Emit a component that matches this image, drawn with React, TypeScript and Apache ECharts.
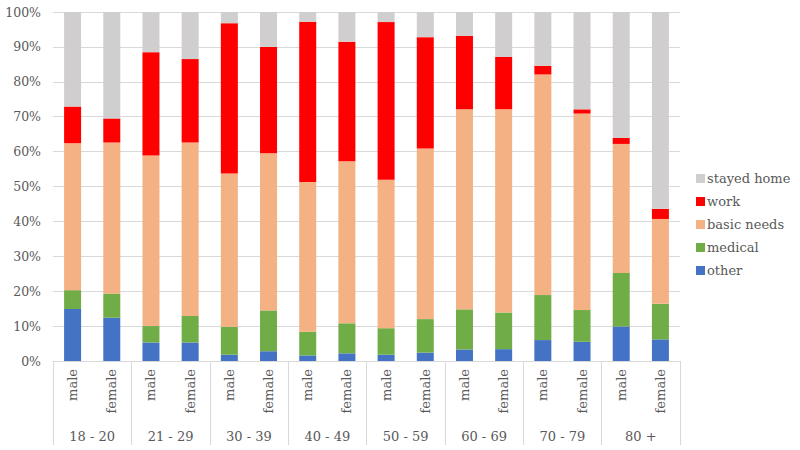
import React, { useEffect, useRef } from "react";
import * as echarts from "echarts";

const ageGroups = ["18 - 20", "21 - 29", "30 - 39", "40 - 49", "50 - 59", "60 - 69", "70 - 79", "80 +"];
const sexes = ["male", "female"];
const barCategories = ageGroups.flatMap(() => sexes);
const yTicks = [0, 10, 20, 30, 40, 50, 60, 70, 80, 90, 100];

const other = [14.9, 12.4, 5.3, 5.3, 1.8, 2.8, 1.6, 2.2, 1.8, 2.4, 3.3, 3.4, 6.0, 5.5, 9.9, 6.2];
const medical = [5.4, 6.9, 4.7, 7.6, 8.0, 11.7, 6.8, 8.6, 7.6, 9.6, 11.5, 10.5, 12.9, 9.1, 15.3, 10.2];
const basicNeeds = [42.1, 43.3, 48.9, 49.7, 43.9, 45.0, 42.9, 46.4, 42.5, 48.9, 57.3, 58.2, 63.2, 56.3, 37.0, 24.3];
const work = [10.5, 6.9, 29.6, 23.9, 43.1, 30.5, 45.9, 34.3, 45.2, 31.9, 21.1, 15.0, 2.5, 1.2, 1.7, 2.9];
const stayedHome = [27.1, 30.5, 11.5, 13.5, 3.2, 10.0, 2.8, 8.5, 2.9, 7.2, 6.8, 12.9, 15.4, 27.9, 36.1, 56.4];

const seriesDefs = [
  { name: "other", data: other, color: "#4472C4" },
  { name: "medical", data: medical, color: "#70AD47" },
  { name: "basic needs", data: basicNeeds, color: "#F4B183" },
  { name: "work", data: work, color: "#FF0000" },
  { name: "stayed home", data: stayedHome, color: "#D0CECE" },
];

const FONT = "DejaVu Serif";
const TEXT = "#595959";
const LINE = "#D9D9D9";

export default function App() {
  const ref = useRef<HTMLDivElement>(null);
  useEffect(() => {
    if (!ref.current) return;
    const chart = echarts.init(ref.current, null, { renderer: "svg" });
    chart.setOption({
      animation: false,
      backgroundColor: "#ffffff",
      textStyle: { fontFamily: FONT },
      grid: { left: 53, right: 120, top: 12, bottom: 89, containLabel: false },
      legend: {
        orient: "vertical",
        left: 691,
        top: 167,
        itemWidth: 9,
        itemHeight: 9,
        itemGap: 10,
        icon: "rect",
        data: ["stayed home", "work", "basic needs", "medical", "other"],
        textStyle: { fontFamily: FONT, fontSize: 13, color: TEXT, padding: [0, 0, 0, -3] },
      },
      xAxis: [
        {
          type: "category",
          data: barCategories,
          position: "bottom",
          axisLine: { show: true, lineStyle: { color: LINE } },
          axisTick: { show: false },
          axisLabel: {
            rotate: 90,
            margin: 8,
            fontFamily: FONT,
            fontSize: 13,
            color: TEXT,
            interval: 0,
          },
        },
        {
          type: "category",
          data: ageGroups,
          position: "bottom",
          axisLine: { show: false },
          axisTick: { show: true, length: 84, interval: 0, lineStyle: { color: LINE } },
          axisLabel: {
            margin: 69,
            fontFamily: FONT,
            fontSize: 13,
            color: TEXT,
            interval: 0,
          },
        },
      ],
      yAxis: {
        type: "value",
        min: yTicks[0],
        max: yTicks[yTicks.length - 1],
        interval: 10,
        axisLine: { show: false },
        axisTick: { show: false },
        splitLine: { lineStyle: { color: LINE } },
        axisLabel: {
          formatter: "{value}%",
          fontFamily: FONT,
          fontSize: 12.5,
          color: TEXT,
          margin: 12,
        },
      },
      series: seriesDefs.map((s) => ({
        name: s.name,
        type: "bar",
        stack: "total",
        xAxisIndex: 0,
        data: s.data,
        barWidth: 17,
        itemStyle: { color: s.color },
      })),
    });
    return () => chart.dispose();
  }, []);
  return <div ref={ref} style={{ width: 800, height: 450, position: "absolute", left: 0, top: 0 }} />;
}
